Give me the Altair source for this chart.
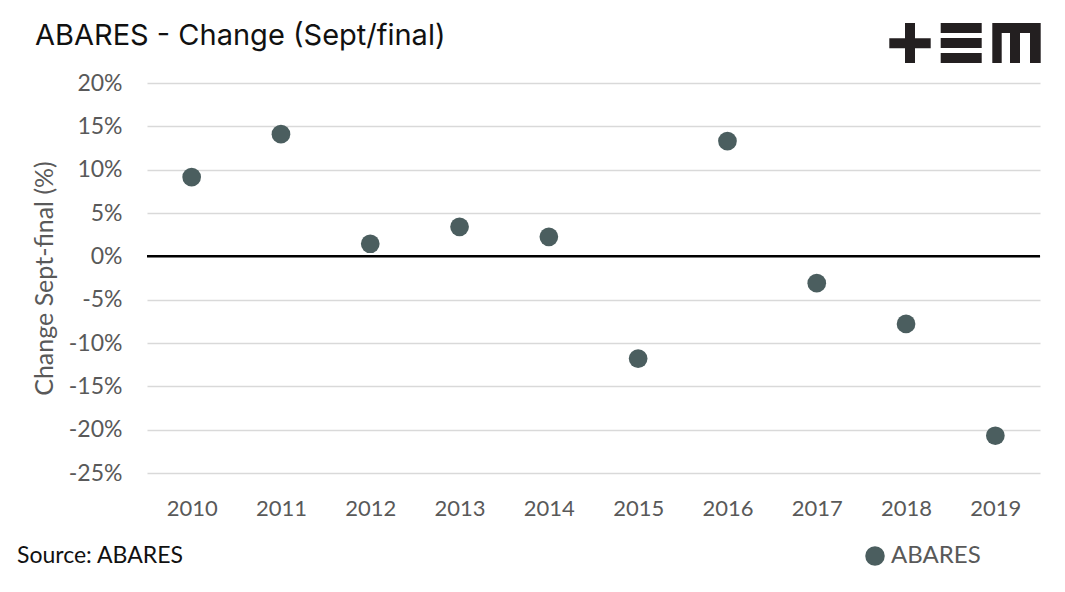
import altair as alt
import pandas as pd

years = ["2010", "2011", "2012", "2013", "2014", "2015", "2016", "2017", "2018", "2019"]
change_pct = [9.15, 14.1, 1.45, 3.4, 2.25, -11.8, 13.3, -3.1, -7.8, -20.7]
series_name = "ABARES"
y_ticks = [-25, -20, -15, -10, -5, 0, 5, 10, 15, 20]
title_text = "ABARES - Change (Sept/final)"
source_text = "Source: ABARES"

df = pd.DataFrame({"year": years, "change": change_pct, "series": [series_name] * len(years)})

FONT = "Lato"
POINT_COLOR = "#4b5e5f"
LOGO_COLOR = "#231f20"
Y_DOMAIN = [-25, 20]

W, H = 893, 390

points = alt.Chart(df).mark_circle(size=350, opacity=1).encode(
    x=alt.X("year:O", scale=alt.Scale(type="point", padding=0.5),
            axis=alt.Axis(title=None, labelAngle=0, domain=False, ticks=False,
                          labelPadding=25, labelFontSize=22, labelColor="#595959",
                          labelFont=FONT, grid=False)),
    y=alt.Y("change:Q", scale=alt.Scale(domain=Y_DOMAIN, nice=False),
            axis=alt.Axis(title="Change Sept-final (%)", values=y_ticks,
                          labelExpr="datum.value + '%'", domain=False, ticks=False,
                          labelPadding=25, labelFontSize=23, labelColor="#595959",
                          labelFont=FONT, gridColor="#d9d9d9", gridWidth=1.5,
                          titleFont=FONT, titleFontSize=25, titleColor="#595959",
                          titleFontWeight="normal", titleX=-103, titleY=H / 2,
                          titleAngle=270, titleBaseline="middle", titleAlign="center")),
    color=alt.Color("series:N", scale=alt.Scale(range=[POINT_COLOR]),
                    legend=alt.Legend(title=None, orient="none", legendX=716, legendY=461,
                                      symbolSize=380, symbolType="circle",
                                      labelFontSize=24, labelFont=FONT, labelColor="#595959",
                                      labelOffset=4)),
)

zero = alt.Chart(pd.DataFrame({"z": [0]})).mark_rule(color="black", strokeWidth=2.5).encode(
    y=alt.Y("z:Q", scale=alt.Scale(domain=Y_DOMAIN, nice=False), axis=None)
)

source = alt.Chart(pd.DataFrame({"t": [source_text]})).mark_text(
    align="left", baseline="alphabetic", fontSize=23, font=FONT, color="#111111"
).encode(x=alt.value(-130), y=alt.value(480), text="t:N")

title = alt.Chart(pd.DataFrame({"t": [title_text]})).mark_text(
    align="left", baseline="alphabetic", fontSize=29, font="Inter", color="#111111"
).encode(x=alt.value(-112), y=alt.value(-38), text="t:N")

# logo "+≡m" built from blocks (pixel offsets relative to plot origin)
logo_rects = pd.DataFrame({
    "x1": [742.3, 758, 793.7, 793.7, 793.7, 845.3, 845.3, 863, 883],
    "x2": [783.7, 768, 834.7, 834.7, 834.7, 893.7, 854.7, 873, 893.7],
    "y1": [-44.7, -60, -60, -45, -30, -60, -50, -50, -50],
    "y2": [-34.7, -20, -50, -35, -20, -50, -20, -20, -20],
})
logo = alt.Chart(logo_rects).mark_rect(color=LOGO_COLOR).encode(
    x=alt.X("x1:Q", scale=None, axis=None), x2="x2:Q",
    y=alt.Y("y1:Q", scale=None, axis=None), y2="y2:Q",
)

chart = alt.layer(points, zero, source, title, logo).resolve_scale(
    x="independent", y="independent"
).properties(
    width=W, height=H,
    background="white",
    autosize=alt.AutoSizeParams(type="none"),
    padding={"left": 139, "top": 75, "right": 9, "bottom": 111},
).configure_view(stroke=None)

chart.save("out.html", embed_options={"renderer": "svg", "actions": False})
